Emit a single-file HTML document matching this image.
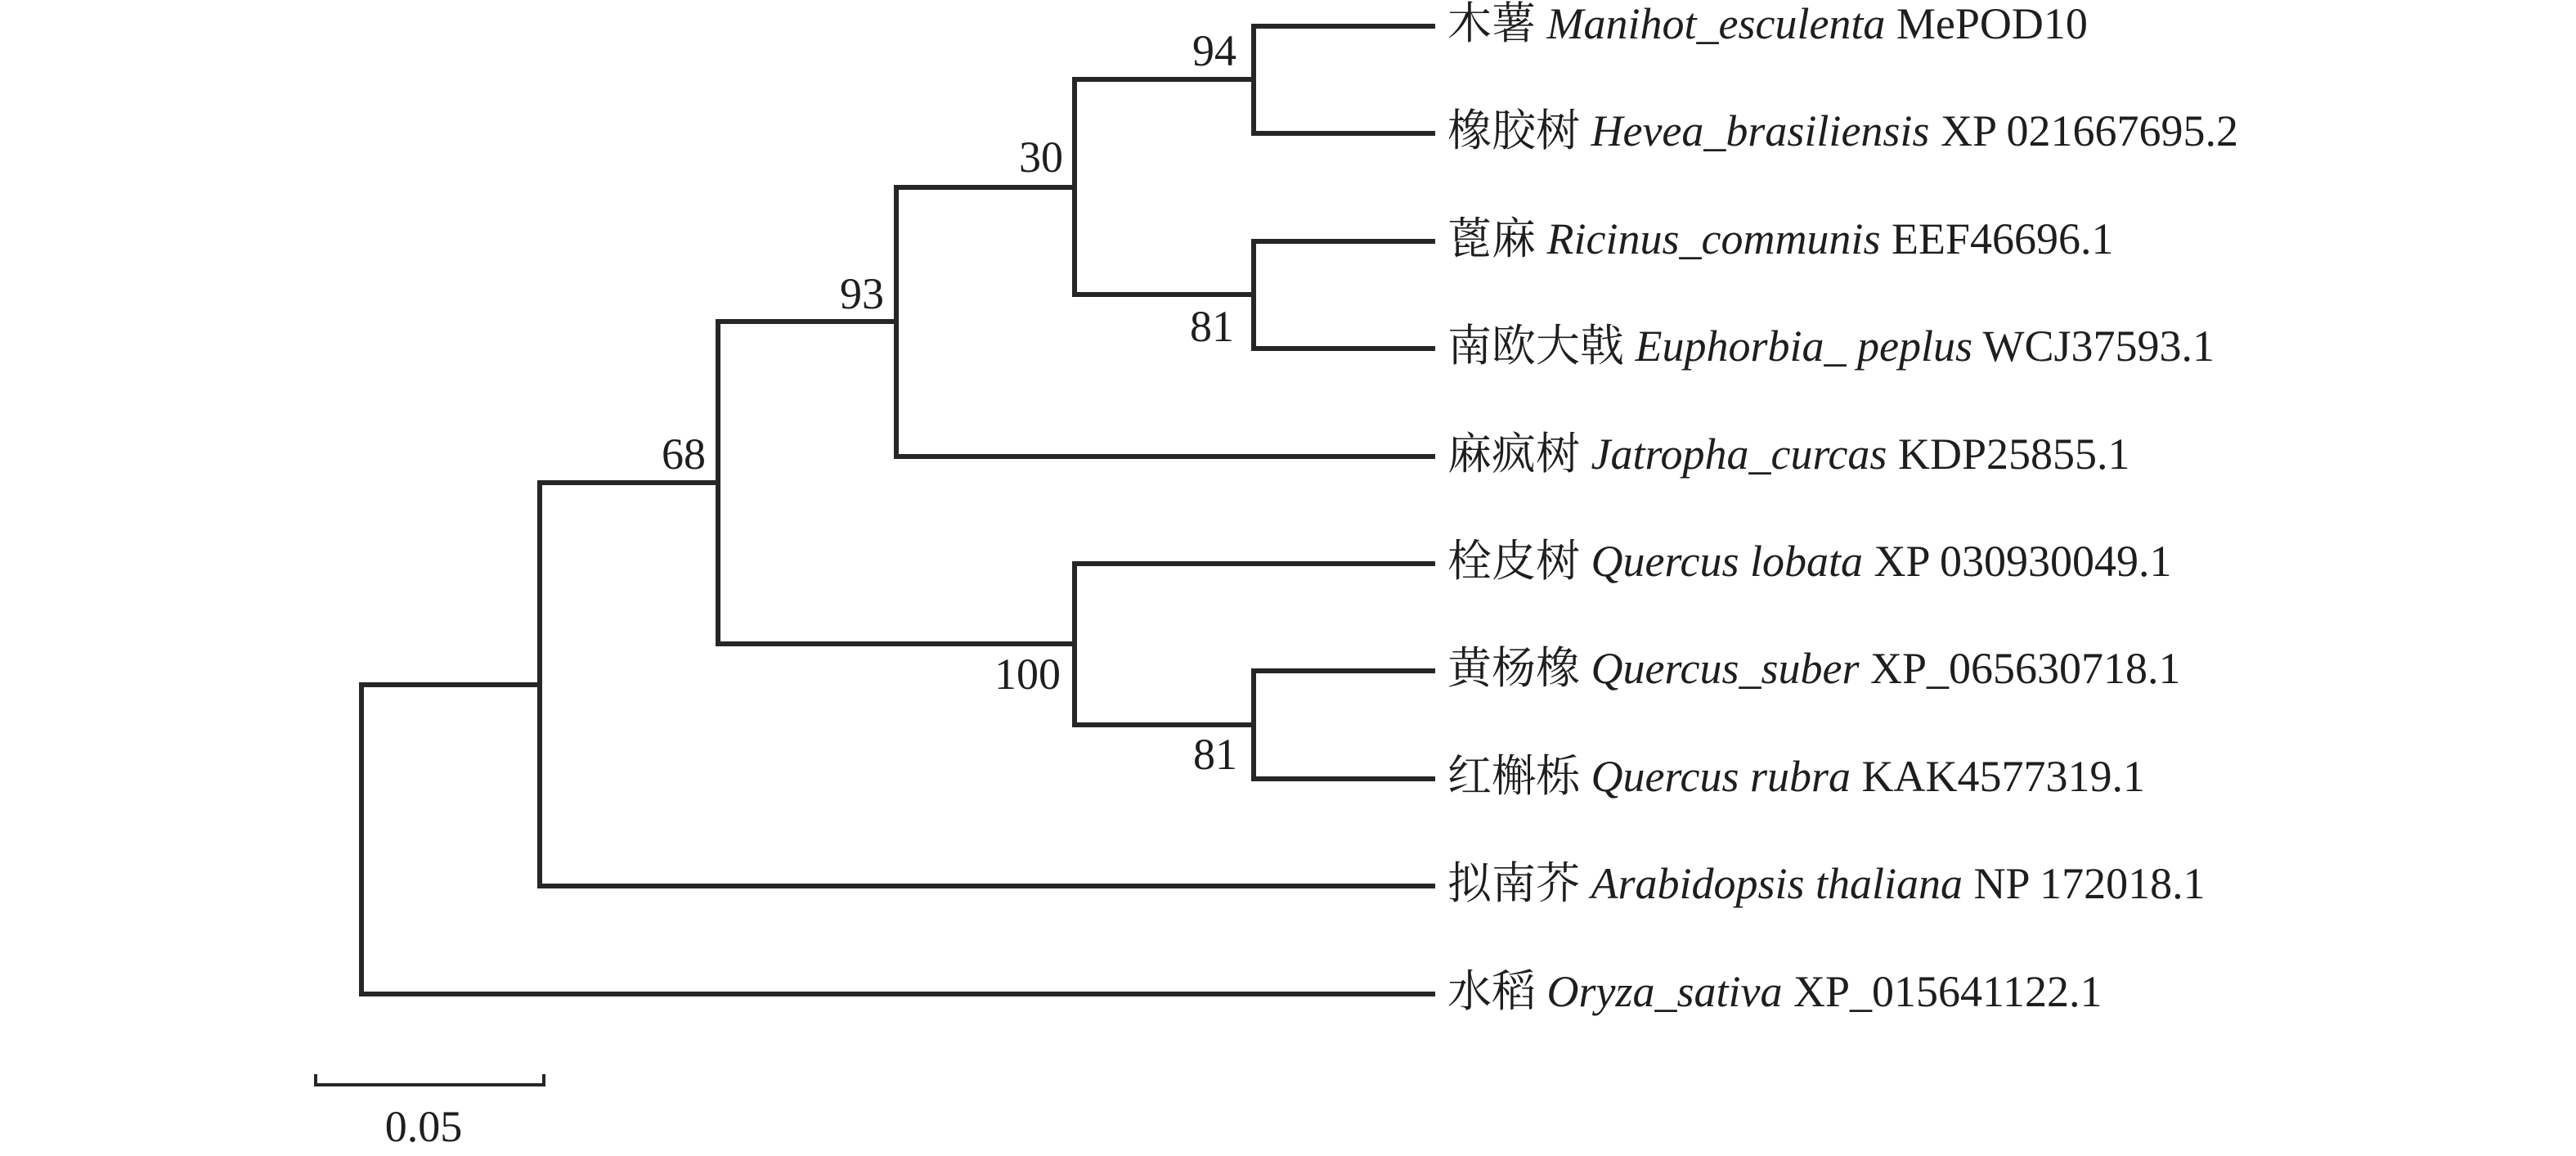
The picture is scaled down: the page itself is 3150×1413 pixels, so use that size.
<!DOCTYPE html>
<html><head><meta charset="utf-8"><style>
html,body{margin:0;padding:0;background:#fff;}
svg{display:block;}
text{font-family:"Liberation Serif","Noto Serif CJK SC","Noto Sans CJK SC",serif;font-size:54px;fill:#1e1e1e;}
.i{font-style:italic;}
</style></head><body>
<svg width="3150" height="1413" viewBox="0 0 3150 1413" xmlns="http://www.w3.org/2000/svg">
<g stroke="#262626" stroke-width="6" fill="none" stroke-linecap="square">
<!-- A 94 -->
<path d="M1752 32 H1533 V163 H1752"/>
<!-- B 81 -->
<path d="M1752 295 H1533 V426 H1752"/>
<!-- C 30 -->
<path d="M1533 97 H1314 V360 H1533"/>
<!-- D 93 -->
<path d="M1314 229 H1096 V558 H1752"/>
<!-- E 81 -->
<path d="M1752 820 H1533 V952 H1752"/>
<!-- F 100 -->
<path d="M1752 689 H1314 V886 H1533"/>
<!-- G 68 -->
<path d="M1096 393 H878 V787 H1314"/>
<!-- H -->
<path d="M878 590 H660 V1083 H1752"/>
<!-- root -->
<path d="M660 837 H442 V1215 H1752"/>
</g>
<!-- scale bar -->
<path d="M386 1313 V1326 H665 V1313" stroke="#262626" stroke-width="4" fill="none"/>
<text x="518" y="1395" text-anchor="middle">0.05</text>

<!-- bootstrap -->
<g text-anchor="end">
<text x="1512" y="80">94</text>
<text x="1300" y="210">30</text>
<text x="1081" y="377">93</text>
<text x="1509" y="417">81</text>
<text x="863" y="573">68</text>
<text x="1297" y="842">100</text>
<text x="1513" y="940">81</text>
</g>

<!-- leaf labels -->
<text x="1770" y="47">木薯 <tspan class="i">Manihot_esculenta</tspan> MePOD10</text>
<text x="1770" y="178">橡胶树 <tspan class="i">Hevea_brasiliensis</tspan> XP 021667695.2</text>
<text x="1770" y="310">蓖麻 <tspan class="i">Ricinus_communis</tspan> EEF46696.1</text>
<text x="1770" y="441">南欧大戟 <tspan class="i">Euphorbia_ peplus</tspan> WCJ37593.1</text>
<text x="1770" y="573">麻疯树 <tspan class="i">Jatropha_curcas</tspan> KDP25855.1</text>
<text x="1770" y="704">栓皮树 <tspan class="i">Quercus lobata</tspan> XP 030930049.1</text>
<text x="1770" y="835">黄杨橡 <tspan class="i">Quercus_suber</tspan> XP_065630718.1</text>
<text x="1770" y="967">红槲栎 <tspan class="i">Quercus rubra</tspan> KAK4577319.1</text>
<text x="1770" y="1098">拟南芥 <tspan class="i">Arabidopsis thaliana</tspan> NP 172018.1</text>
<text x="1770" y="1230">水稻 <tspan class="i">Oryza_sativa</tspan> XP_015641122.1</text>
</svg>
</body></html>
